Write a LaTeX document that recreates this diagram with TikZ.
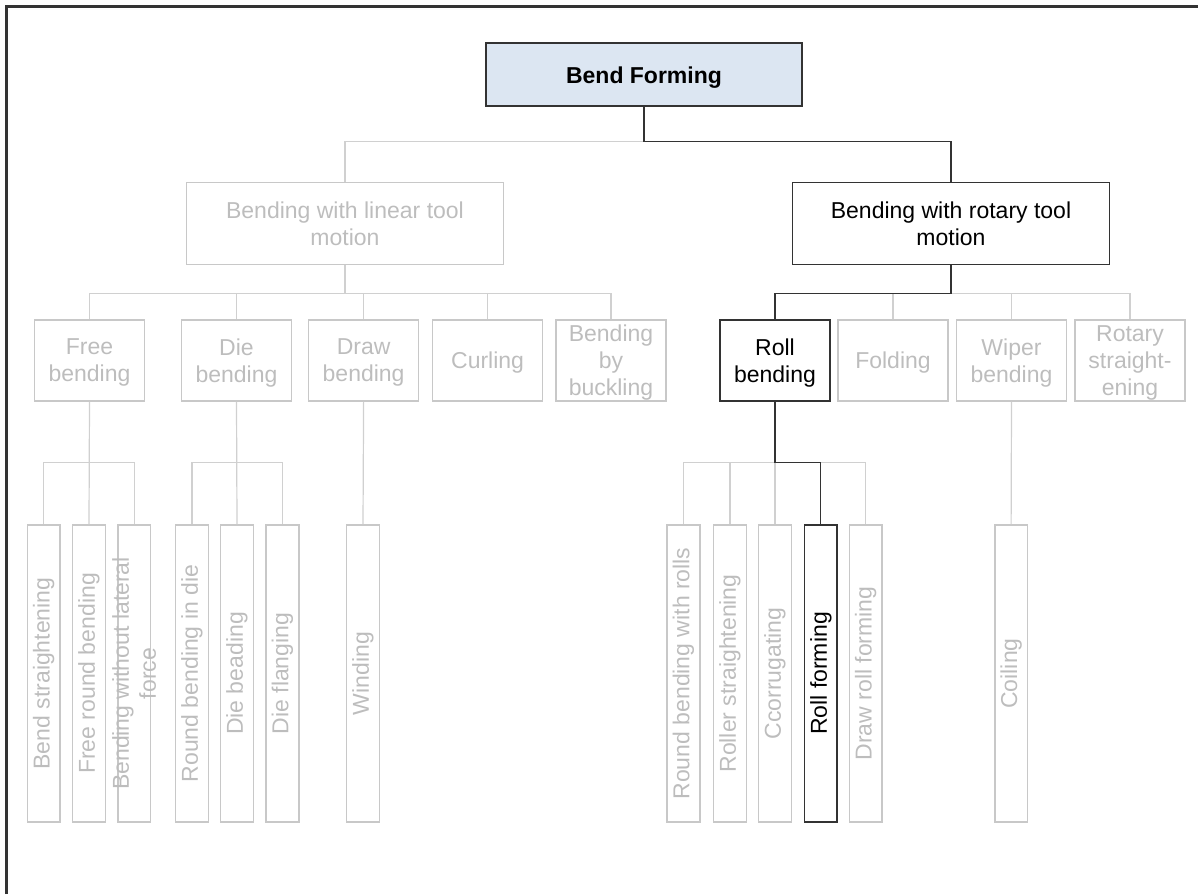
\documentclass[tikz,border=0pt]{standalone}
\usepackage{fontspec}
\setmainfont{Liberation Sans}
\definecolor{boxgray}{HTML}{C8C8C8}
\definecolor{txtgray}{HTML}{BDBDBD}
\definecolor{linegray}{HTML}{D0D0D0}
\definecolor{darkline}{HTML}{333333}
\definecolor{bfblue}{HTML}{DCE6F2}
\begin{document}
\begin{tikzpicture}[x=1pt,y=-1pt,
  every node/.style={font=\fontsize{23}{27}\selectfont},
  lbox/.style={draw=boxgray, line width=1.5pt, text=txtgray, align=center, inner sep=0pt, text depth=0pt},
  dbox/.style={draw=darkline, line width=1.5pt, text=black, align=center, inner sep=0pt, text depth=0pt},
  midbox/.style={minimum width=110pt, minimum height=81pt},
  secbox/.style={minimum width=317pt, minimum height=82pt},
  vbox/.style={minimum width=32.7pt, minimum height=297pt, inner sep=0pt},
  vtext/.style={rotate=90, align=center, inner sep=0pt},
  gline/.style={draw=linegray, line width=1.2pt},
  dline/.style={draw=darkline, line width=1.2pt},
  frame/.style={draw=darkline, line width=2.5pt}
]
\useasboundingbox (0,0) rectangle (1198,894);
\draw[frame] (6.5,894) -- (6.5,6.5) -- (1198,6.5);

% level 1
\node[dbox, fill=bfblue, minimum width=316pt, minimum height=63pt, font=\fontsize{23}{27}\selectfont\bfseries] (bf) at (644,74.7) {Bend Forming};

% level 2
\node[lbox, secbox] (lin) at (345,223.5) {Bending with linear tool\\motion};
\node[dbox, secbox] (rot) at (951,223.5) {Bending with rotary tool\\motion};

% level 3
\node[lbox, midbox] (free)  at (89.5,360.5)  {Free\\bending};
\node[lbox, midbox] (die)   at (236.5,360.5) {Die\\bending};
\node[lbox, midbox] (drawb) at (363.6,360.5) {Draw\\bending};
\node[lbox, midbox] (curl)  at (487.6,360.5) {Curling};
\node[lbox, midbox] (buck)  at (611,360.5)   {Bending\\by\\buckling};
\node[dbox, midbox] (roll)  at (775,360.5)   {Roll\\bending};
\node[lbox, midbox] (fold)  at (893,360.5)   {Folding};
\node[lbox, midbox] (wiper) at (1011.5,360.5){Wiper\\bending};
\node[lbox, midbox] (rstr)  at (1130,360.5)  {Rotary\\straight-\\ening};

% level 4 boxes
\foreach \n/\x in {fr1/43.7, fr2/89, fr3/134.2, di1/192, di2/237, di3/282.4, wind/363,
                   ro1/683.4, ro2/729.9, ro3/775, ro5/865.6, coil/1011.1}
  \node[lbox, vbox] (\n) at (\x,673.5) {};
\node[dbox, vbox] (ro4) at (820.8,673.5) {};

% level 4 labels
\node[vtext, text=txtgray] (tfr1) at (fr1) {Bend straightening};
\node[vtext, text=txtgray] (tfr2) at (fr2) {Free round bending};
\node[vtext, text=txtgray] (tfr3) at (fr3) {Bending without lateral\\force};
\node[vtext, text=txtgray] (tdi1) at (di1) {Round bending in die};
\node[vtext, text=txtgray] (tdi2) at (di2) {Die beading};
\node[vtext, text=txtgray] (tdi3) at (di3) {Die flanging};
\node[vtext, text=txtgray] (twind) at (wind) {Winding};
\node[vtext, text=txtgray] (tro1) at (ro1) {Round bending with rolls};
\node[vtext, text=txtgray] (tro2) at (ro2) {Roller straightening};
\node[vtext, text=txtgray] (tro3) at (ro3) {Ccorrugating};
\node[vtext, text=black]   (tro4) at (ro4) {Roll forming};
\node[vtext, text=txtgray] (tro5) at (ro5) {Draw roll forming};
\node[vtext, text=txtgray] (tcoil) at (coil) {Coiling};

% bus levels
\coordinate (b1) at (0,141.5);
\coordinate (b2) at (0,293.3);
\coordinate (b3) at (0,462.5);

% gray connectors
\draw[gline] (bf.south) -- (bf.south |- b1) -| (lin.north);
\draw[gline] (lin.south) -- (lin.south |- b2);
\draw[gline] (free.north |- b2) -- (buck.north |- b2);
\foreach \n in {free,die,drawb,curl,buck} \draw[gline] (\n.north) -- (\n.north |- b2);
\draw[gline] (roll.north |- b2) -- (rstr.north |- b2);
\foreach \n in {fold,wiper,rstr} \draw[gline] (\n.north) -- (\n.north |- b2);

\draw[gline] (free.south) -- (fr2.north);
\draw[gline] (fr1.north) |- (fr3.north |- b3) -- (fr3.north);
\draw[gline] (die.south) -- (di2.north);
\draw[gline] (di1.north) |- (di3.north |- b3) -- (di3.north);
\draw[gline] (drawb.south) -- (wind.north);
\draw[gline] (ro1.north) |- (ro5.north |- b3) -- (ro5.north);
\draw[gline] (ro2.north) -- (ro2.north |- b3);
\draw[gline] (ro3.north) -- (ro3.north |- b3);
\draw[gline] (wiper.south) -- (coil.north);

% dark connectors
\draw[dline] (bf.south) -- (bf.south |- b1) -| (rot.north);
\draw[dline] (rot.south) -- (rot.south |- b2) -| (roll.north);
\draw[dline] (roll.south) -- (roll.south |- b3) -| (ro4.north);
\end{tikzpicture}
\end{document}
